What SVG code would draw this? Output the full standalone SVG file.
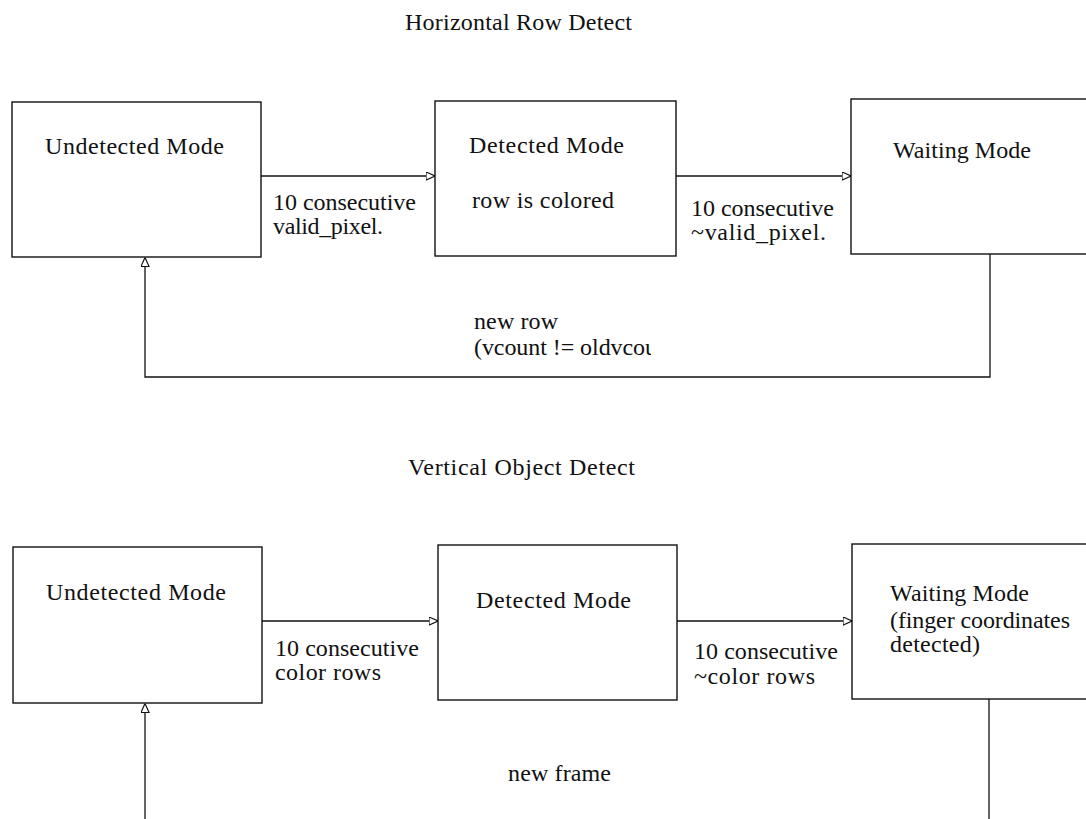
<svg xmlns="http://www.w3.org/2000/svg" width="1086" height="819" viewBox="0 0 1086 819">
<style>
text{font-family:'Liberation Serif','DejaVu Serif','Noto Serif',Tinos,serif;font-size:24px;fill:#111}
.box{fill:#fff;stroke:#111;stroke-width:1.4}
.ln{fill:none;stroke:#111;stroke-width:1.3}
</style>
<defs>
<marker id="ah" viewBox="0 0 10 10" refX="10" refY="5" markerWidth="9" markerHeight="9" markerUnits="userSpaceOnUse" orient="auto">
<path d="M0,0.5 L10,5 L0,9.5 Z" fill="#fff" stroke="#111" stroke-width="1.3"/>
</marker>
<clipPath id="clipv"><rect x="440" y="330" width="211" height="40"/></clipPath>
</defs>
<rect width="1086" height="819" fill="#fff"/>
<text x="405" y="30" textLength="227">Horizontal Row Detect</text>
<text x="408" y="475" textLength="227">Vertical Object Detect</text>
<g id="connectors">
<line class="ln" x1="261" y1="176" x2="435" y2="176" marker-end="url(#ah)"/>
<line class="ln" x1="676" y1="176" x2="851" y2="176" marker-end="url(#ah)"/>
<polyline class="ln" points="990,254 990,377 145,377 145,257.5" marker-end="url(#ah)"/>
<line class="ln" x1="262" y1="621" x2="438" y2="621" marker-end="url(#ah)"/>
<line class="ln" x1="677" y1="621" x2="852" y2="621" marker-end="url(#ah)"/>
<line class="ln" x1="145" y1="819" x2="145" y2="703.5" marker-end="url(#ah)"/>
<line class="ln" x1="989" y1="699" x2="989" y2="819"/>
<text x="273" y="210" textLength="143">10 consecutive</text>
<text x="273" y="234" textLength="110">valid_pixel.</text>
<text x="691" y="216" textLength="143">10 consecutive</text>
<text x="691" y="240" textLength="135">~valid_pixel.</text>
<text x="474" y="329" textLength="84">new row</text>
<text x="474" y="355" textLength="183" clip-path="url(#clipv)">(vcount != oldvcou</text>
<text x="275" y="656" textLength="144">10 consecutive</text>
<text x="275" y="680" textLength="106">color rows</text>
<text x="694" y="659" textLength="144">10 consecutive</text>
<text x="694" y="684" textLength="121">~color rows</text>
<text x="508" y="781" textLength="103">new frame</text>
</g>
<g id="h-undetected">
<rect class="box" x="12" y="102" width="249" height="155"/>
<text x="45" y="154" textLength="179">Undetected Mode</text>
</g>
<g id="h-detected">
<rect class="box" x="435" y="101" width="241" height="155"/>
<text x="469" y="153" textLength="155">Detected Mode</text>
<text x="472" y="208" textLength="142">row is colored</text>
</g>
<g id="h-waiting">
<rect class="box" x="851" y="99" width="260" height="155"/>
<text x="893" y="158" textLength="138">Waiting Mode</text>
</g>
<g id="v-undetected">
<rect class="box" x="13" y="547" width="249" height="156"/>
<text x="46" y="600" textLength="180">Undetected Mode</text>
</g>
<g id="v-detected">
<rect class="box" x="438" y="545" width="239" height="155"/>
<text x="476" y="608" textLength="155">Detected Mode</text>
</g>
<g id="v-waiting">
<rect class="box" x="852" y="544" width="260" height="155"/>
<text x="890" y="601" textLength="139">Waiting Mode</text>
<text x="890" y="628" textLength="180">(finger coordinates</text>
<text x="890" y="652" textLength="90">detected)</text>
</g>
</svg>
